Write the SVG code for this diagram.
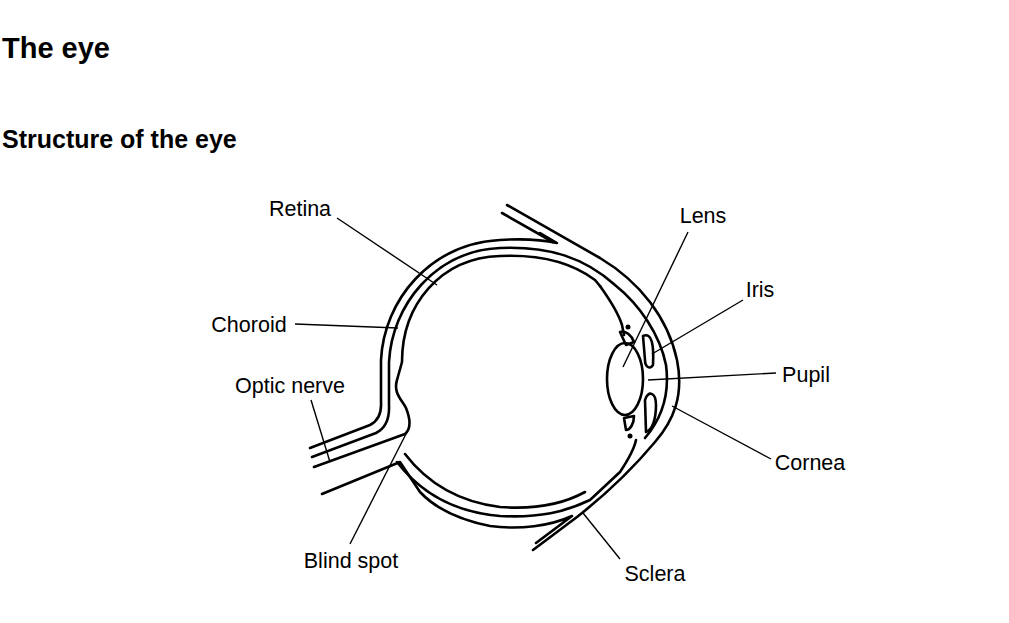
<svg xmlns="http://www.w3.org/2000/svg" width="1009" height="623" viewBox="0 0 1009 623">
<style>
.e{fill:none;stroke:#000;stroke-width:2.6;stroke-linecap:round;stroke-linejoin:round}
.l{stroke:#000;stroke-width:1.4}
.t{font-family:"Liberation Sans",Arial,sans-serif;font-size:21.5px;fill:#000}
.h{font-family:"Liberation Sans",Arial,sans-serif;font-weight:bold;fill:#000}
</style>
<rect width="1009" height="623" fill="#fff"/>
<text class="h" x="2" y="58" font-size="29">The eye</text>
<text class="h" x="2" y="148" font-size="25">Structure of the eye</text>
<g id="eye">
<path class="e" d="M310 448 L370 425 Q382 419 381 402 L381 360 C384 300 430 244 500 240 C530 238 548 241 557 243 L540 233"/>
<path class="e" d="M507 205 L600 258 C640 282 668 318 677 360 C684 395 674 420 655 442 C630 472 605 495 577 517 L533 550"/>
<path class="e" d="M502 213 L553 242"/>
<path class="e" d="M536 543 L572 516 C550 526 520 530 490 526 C460 520 435 508 420 492 L400 462 L322 494"/>
<path class="e" d="M312 457 L376 433 Q390 426 389 405 L389 362 C392 305 435 251 500 248 C550 246 585 258 615 285 C640 305 660 335 666 365 C670 395 662 418 645 438"/>
<path class="e" d="M314 467 L405 434 C412 428 410 418 406 408 C402 400 393 393 397 380 L402 362 C402 305 440 258 500 256 C545 254 575 265 595 280 L600 286"/>
<path class="e" d="M397 462 C420 492 452 512 500 516 C540 518 565 512 590 500 L620 472 C628 460 634 450 636 440"/>
<path class="e" d="M405 454 C428 484 460 502 500 507 C540 510 565 503 585 492"/>
<path class="e" d="M600 286 C610 300 618 312 622 325 L624 335"/>
<ellipse class="e" cx="625" cy="379" rx="18" ry="36"/>
<path class="e" d="M643 336 C652 332 654 345 653 365 C650 370 645 367 645 360 Z"/>
<path class="e" d="M645 400 C648 390 656 392 656 405 C656 420 652 430 646 432 Z"/>
<path class="e" d="M620 332 C626 330 632 336 634 342 L626 345 Z"/>
<path class="e" d="M624 418 L634 416 C634 424 630 430 626 430 Z"/>
<circle cx="628" cy="327" r="2.5"/>
<circle cx="630" cy="436" r="2.5"/>
</g>
<g id="connectors">
<line class="l" x1="337" y1="218" x2="437" y2="285"/>
<line class="l" x1="295" y1="324" x2="398" y2="328"/>
<line class="l" x1="311" y1="400" x2="330" y2="462"/>
<line class="l" x1="350" y1="544" x2="408" y2="430"/>
<line class="l" x1="620" y1="559" x2="583" y2="513"/>
<line class="l" x1="771" y1="459" x2="672" y2="406"/>
<line class="l" x1="776" y1="373" x2="648" y2="380"/>
<line class="l" x1="743" y1="300" x2="652" y2="354"/>
<line class="l" x1="688" y1="232" x2="623" y2="367"/>
</g>
<g id="labels">
<text class="t" x="300" y="216" text-anchor="middle">Retina</text>
<text class="t" x="249" y="332" text-anchor="middle">Choroid</text>
<text class="t" x="290" y="393" text-anchor="middle">Optic nerve</text>
<text class="t" x="351" y="568" text-anchor="middle">Blind spot</text>
<text class="t" x="655" y="581" text-anchor="middle">Sclera</text>
<text class="t" x="810" y="470" text-anchor="middle">Cornea</text>
<text class="t" x="806" y="382" text-anchor="middle">Pupil</text>
<text class="t" x="760" y="297" text-anchor="middle">Iris</text>
<text class="t" x="703" y="223" text-anchor="middle">Lens</text>
</g>
</svg>
